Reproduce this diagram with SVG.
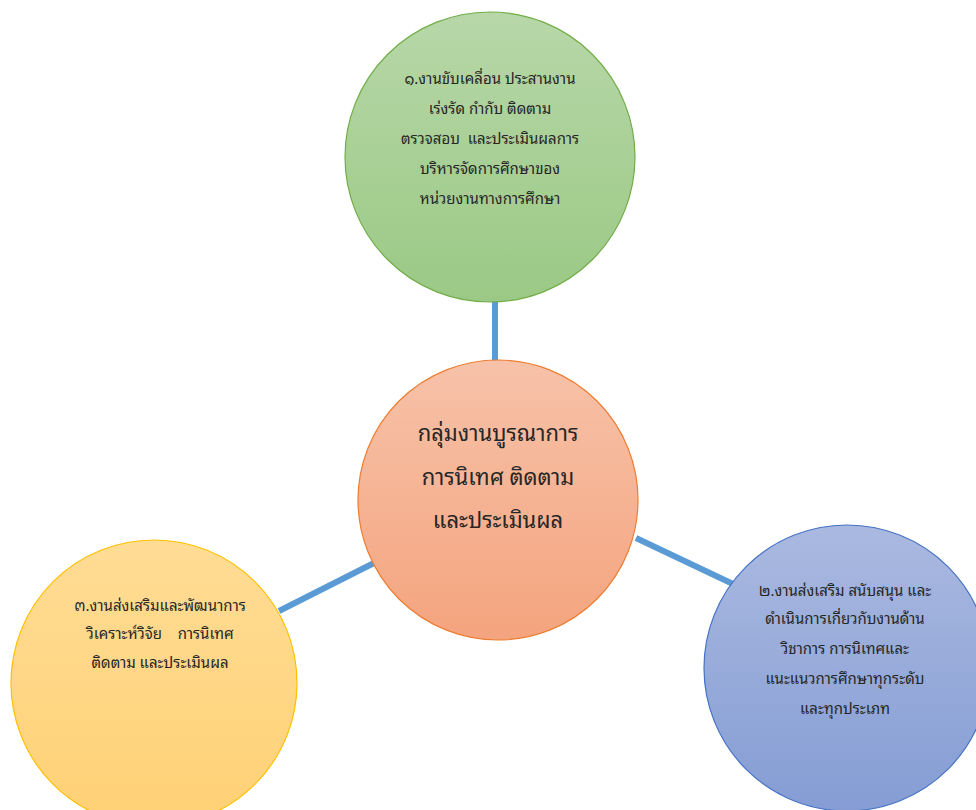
<svg xmlns="http://www.w3.org/2000/svg" width="976" height="810" viewBox="0 0 976 810">
<defs>
<linearGradient id="gG" x1="0" y1="0" x2="0" y2="1"><stop offset="0" stop-color="#b7d7a8"/><stop offset="1" stop-color="#9bc985"/></linearGradient>
<linearGradient id="gO" x1="0" y1="0" x2="0" y2="1"><stop offset="0" stop-color="#f7c2a9"/><stop offset="1" stop-color="#f4a47e"/></linearGradient>
<linearGradient id="gY" x1="0" y1="0" x2="0" y2="1"><stop offset="0" stop-color="#ffdc95"/><stop offset="1" stop-color="#ffd175"/></linearGradient>
<linearGradient id="gB" x1="0" y1="0" x2="0" y2="1"><stop offset="0" stop-color="#aab9e0"/><stop offset="1" stop-color="#859dd4"/></linearGradient>
<style>
.t{font-family:"Noto Sans Thai Looped","Loma","Garuda","Norasi","Noto Sans Thai","Tahoma","DejaVu Sans",sans-serif;fill:#262626;text-anchor:middle;white-space:pre}
.s{font-size:15px}
.b{font-size:22px}
.c{stroke:#5b9bd5;stroke-width:6;fill:none}
</style>
</defs>
<rect width="976" height="810" fill="#ffffff"/>
<g id="connectors">
<line class="c" x1="495" y1="298" x2="495" y2="368"/>
<line class="c" x1="374" y1="563" x2="279" y2="611"/>
<line class="c" x1="636" y1="538" x2="733" y2="584"/>
</g>
<g id="node1">
<circle cx="490" cy="157" r="145" fill="url(#gG)" stroke="#70ad47" stroke-width="1.2"/>
<text class="t s" x="490" y="84">๑.งานขับเคลื่อน ประสานงาน</text>
<text class="t s" x="490" y="114">เร่งรัด กำกับ ติดตาม</text>
<text class="t s" x="490" y="144" xml:space="preserve">ตรวจสอบ  และประเมินผลการ</text>
<text class="t s" x="490" y="174">บริหารจัดการศึกษาของ</text>
<text class="t s" x="490" y="204">หน่วยงานทางการศึกษา</text>
</g>
<g id="center">
<circle cx="498" cy="500" r="140" fill="url(#gO)" stroke="#ed7d31" stroke-width="1.2"/>
<text class="t b" x="498" y="441">กลุ่มงานบูรณาการ</text>
<text class="t b" x="498" y="485">การนิเทศ ติดตาม</text>
<text class="t b" x="498" y="528">และประเมินผล</text>
</g>
<g id="node3">
<circle cx="154" cy="683" r="143" fill="url(#gY)" stroke="#ffc000" stroke-width="1.2"/>
<text class="t s" x="160" y="611">๓.งานส่งเสริมและพัฒนาการ</text>
<text class="t s" x="160" y="639" xml:space="preserve">วิเคราะห์วิจัย    การนิเทศ</text>
<text class="t s" x="160" y="668">ติดตาม และประเมินผล</text>
</g>
<g id="node2">
<circle cx="847" cy="668" r="143" fill="url(#gB)" stroke="#4472c4" stroke-width="1.2"/>
<text class="t s" x="845" y="596">๒.งานส่งเสริม สนับสนุน และ</text>
<text class="t s" x="845" y="624">ดำเนินการเกี่ยวกับงานด้าน</text>
<text class="t s" x="845" y="654">วิชาการ การนิเทศและ</text>
<text class="t s" x="845" y="684">แนะแนวการศึกษาทุกระดับ</text>
<text class="t s" x="845" y="714">และทุกประเภท</text>
</g>
</svg>
